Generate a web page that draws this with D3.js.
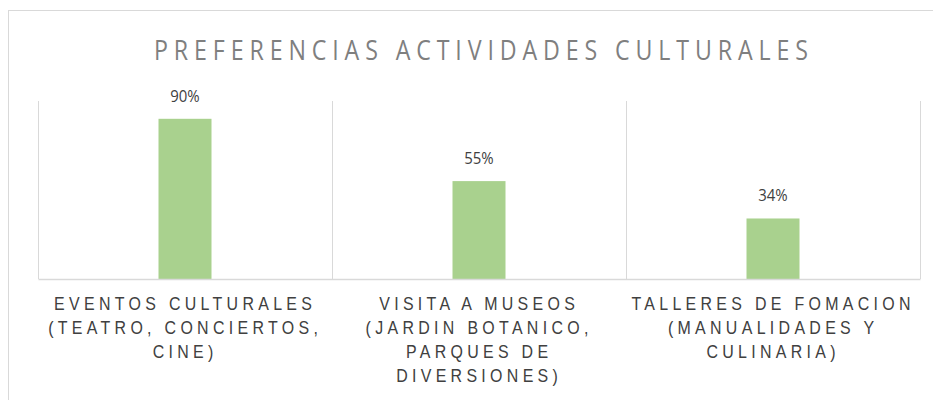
<!DOCTYPE html>
<html>
<head>
<meta charset="utf-8">
<script src="https://cdn.jsdelivr.net/npm/d3@7"></script>
<style>
  body { margin: 0; background: #fff; }
</style>
</head>
<body>
<div id="chart"></div>
<script>
const width = 933;
const height = 400;

const title = "PREFERENCIAS ACTIVIDADES CULTURALES";
const categories = ["eventos", "museos", "talleres"];
const labelLines = [
  ["EVENTOS CULTURALES", "(TEATRO, CONCIERTOS,", "CINE)"],
  ["VISITA A MUSEOS", "(JARDIN BOTANICO,", "PARQUES DE", "DIVERSIONES)"],
  ["TALLERES DE FOMACION", "(MANUALIDADES Y", "CULINARIA)"]
];
const values = [0.90, 0.55, 0.34];

const svg = d3.select("#chart")
  .append("svg")
  .attr("width", width)
  .attr("height", height);

// chart frame (cropped at right and bottom)
svg.append("rect")
  .attr("x", 8.5).attr("y", 10.5)
  .attr("width", 940).attr("height", 420)
  .attr("fill", "#fff")
  .attr("stroke", "#d9d9d9");

const x = d3.scaleBand().domain(categories).range([38, 920]);
const y = d3.scaleLinear().domain([0, 1]).range([279, 101]);
const cx = c => x(c) + x.bandwidth() / 2;

// spacing so a condensed line fills a given width
function fitSpacing(sel, target, sx) {
  const node = sel.node();
  const n = node.textContent.length;
  const w0 = node.getComputedTextLength();
  return (target / sx - w0) / (n - 1);
}

// title, spaced
const tsx = 0.86;
const t = svg.append("text")
  .attr("transform", `translate(154,60) scale(${tsx},1)`)
  .attr("fill", "#7f7f7f")
  .style("font-family", "'Open Sans', sans-serif")
  .style("font-size", "27px")
  .style("font-weight", 400)
  .text(title);
t.attr("letter-spacing", fitSpacing(t, 654, tsx));

// category separators
const seps = categories.map(c => x(c)).concat([x.range()[1]]);
svg.append("g")
  .selectAll("line")
  .data(seps)
  .join("line")
  .attr("x1", d => d + 0.5).attr("x2", d => d + 0.5)
  .attr("y1", y(1)).attr("y2", y(0))
  .attr("stroke", "#d9d9d9");

// bars
const bw = 53;
svg.append("g")
  .selectAll("rect")
  .data(values)
  .join("rect")
  .attr("x", (d, i) => cx(categories[i]) - bw / 2)
  .attr("y", d => y(d))
  .attr("width", bw)
  .attr("height", d => y(0) - y(d))
  .attr("fill", "#a9d18e");

// baseline axis
const axis = svg.append("g")
  .attr("transform", `translate(0,${y(0)})`)
  .call(d3.axisBottom(x).tickSize(0).tickFormat(""));
axis.select(".domain").attr("stroke", "#d9d9d9").attr("stroke-width", 1.5);

// value labels
svg.append("g")
  .selectAll("text")
  .data(values)
  .join("text")
  .attr("transform", (d, i) => `translate(${cx(categories[i])},${y(d) - 17}) scale(0.88,1)`)
  .attr("text-anchor", "middle")
  .attr("fill", "#404040")
  .style("font-family", "'Open Sans', sans-serif")
  .style("font-size", "17px")
  .text(d3.format(".0%"));

// category labels
const lsx = 0.84;
const lab = svg.append("g")
  .selectAll("text")
  .data(categories)
  .join("text")
  .attr("text-anchor", "middle")
  .attr("fill", "#404040")
  .style("font-family", "'Liberation Sans', Arial, sans-serif")
  .style("font-size", "19px");
lab.selectAll("tspan")
  .data((c, i) => labelLines[i])
  .join("tspan")
  .attr("x", 0)
  .attr("dy", (d, i) => i === 0 ? 0 : 24)
  .text(d => d);
const probe = lab.filter((d, i) => i === 0).select("tspan");
const ls = fitSpacing(probe, 258, lsx);
lab.attr("letter-spacing", ls)
  .attr("transform", c => `translate(${cx(c) + ls * lsx / 2 - 2},310) scale(${lsx},1)`);
</script>
</body>
</html>
